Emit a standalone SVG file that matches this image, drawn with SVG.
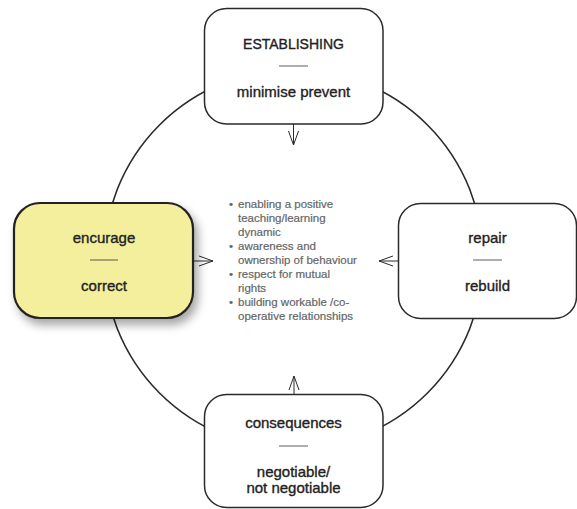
<svg xmlns="http://www.w3.org/2000/svg" width="577" height="509" viewBox="0 0 577 509">
<style>
.box{fill:#ffffff;stroke:#2a2a2a;stroke-width:1.5}
.hl{fill:#f3ef9c;stroke:#222;stroke-width:2.2}
.t{font-family:"Liberation Sans",Arial,sans-serif;font-size:15px;fill:#222;stroke:#222;stroke-width:0.35;text-anchor:middle}
.cap{font-size:14px}
.dash{stroke:#333;stroke-width:0.8}
.b{font-family:"Liberation Sans",Arial,sans-serif;font-size:11.5px;fill:#666;stroke:#666;stroke-width:0.2}
.conn{fill:none;stroke:#2a2a2a;stroke-width:1}
.ring{fill:none;stroke:#2a2a2a;stroke-width:1.6}
</style>
<defs>
<marker id="ah" markerUnits="userSpaceOnUse" markerWidth="20" markerHeight="14" viewBox="-15 -7 16 14" refX="0" refY="0" orient="auto">
<path d="M-14,-5 L0,0 L-14,5" fill="none" stroke="#2a2a2a" stroke-width="1"/>
</marker>
<filter id="sh" x="-20%" y="-20%" width="150%" height="150%">
<feDropShadow dx="4" dy="6" stdDeviation="5" flood-color="#000" flood-opacity="0.35"/>
</filter>
</defs>
<rect width="577" height="509" fill="#ffffff"/>
<circle class="ring" cx="293.5" cy="259" r="189.5"/>
<g id="connectors">
<line class="conn" x1="293.5" y1="124" x2="293.5" y2="145" marker-end="url(#ah)"/>
<line class="conn" x1="189" y1="261" x2="213" y2="261" marker-end="url(#ah)"/>
<line class="conn" x1="399" y1="261" x2="379" y2="261" marker-end="url(#ah)"/>
<line class="conn" x1="294" y1="395" x2="294" y2="376" marker-end="url(#ah)"/>
</g>
<g id="establishing">
<rect class="box" x="204.5" y="8.5" width="178.5" height="115.5" rx="22"/>
<text class="t cap" x="293.5" y="49">ESTABLISHING</text>
<line class="dash" x1="279" y1="66" x2="308" y2="66"/>
<text class="t" x="293.5" y="97">minimise prevent</text>
</g>
<g id="encourage">
<rect class="hl" x="14" y="203" width="179" height="115" rx="26" filter="url(#sh)"/>
<text class="t" x="104" y="243">encurage</text>
<line class="dash" x1="90" y1="260" x2="118" y2="260"/>
<text class="t" x="104" y="291">correct</text>
</g>
<g id="repair">
<rect class="box" x="398.5" y="203.5" width="178" height="115" rx="22"/>
<text class="t" x="487.5" y="243">repair</text>
<line class="dash" x1="473" y1="260" x2="502" y2="260"/>
<text class="t" x="487.5" y="291">rebuild</text>
</g>
<g id="consequences">
<rect class="box" x="204.5" y="394.5" width="178.5" height="113" rx="22"/>
<text class="t" x="293.5" y="428">consequences</text>
<line class="dash" x1="279" y1="446" x2="308" y2="446"/>
<text class="t" x="293.5" y="477">negotiable/</text>
<text class="t" x="293.5" y="493">not negotiable</text>
</g>
<g id="outcomes">
<text class="b" x="229" y="208">•</text>
<text class="b" x="238" y="208">enabling a positive</text>
<text class="b" x="238" y="222">teaching/learning</text>
<text class="b" x="238" y="236">dynamic</text>
<text class="b" x="229" y="250">•</text>
<text class="b" x="238" y="250">awareness and</text>
<text class="b" x="238" y="264">ownership of behaviour</text>
<text class="b" x="229" y="278">•</text>
<text class="b" x="238" y="278">respect for mutual</text>
<text class="b" x="238" y="292">rights</text>
<text class="b" x="229" y="306">•</text>
<text class="b" x="238" y="306">building workable /co-</text>
<text class="b" x="238" y="320">operative relationships</text>
</g>
</svg>
